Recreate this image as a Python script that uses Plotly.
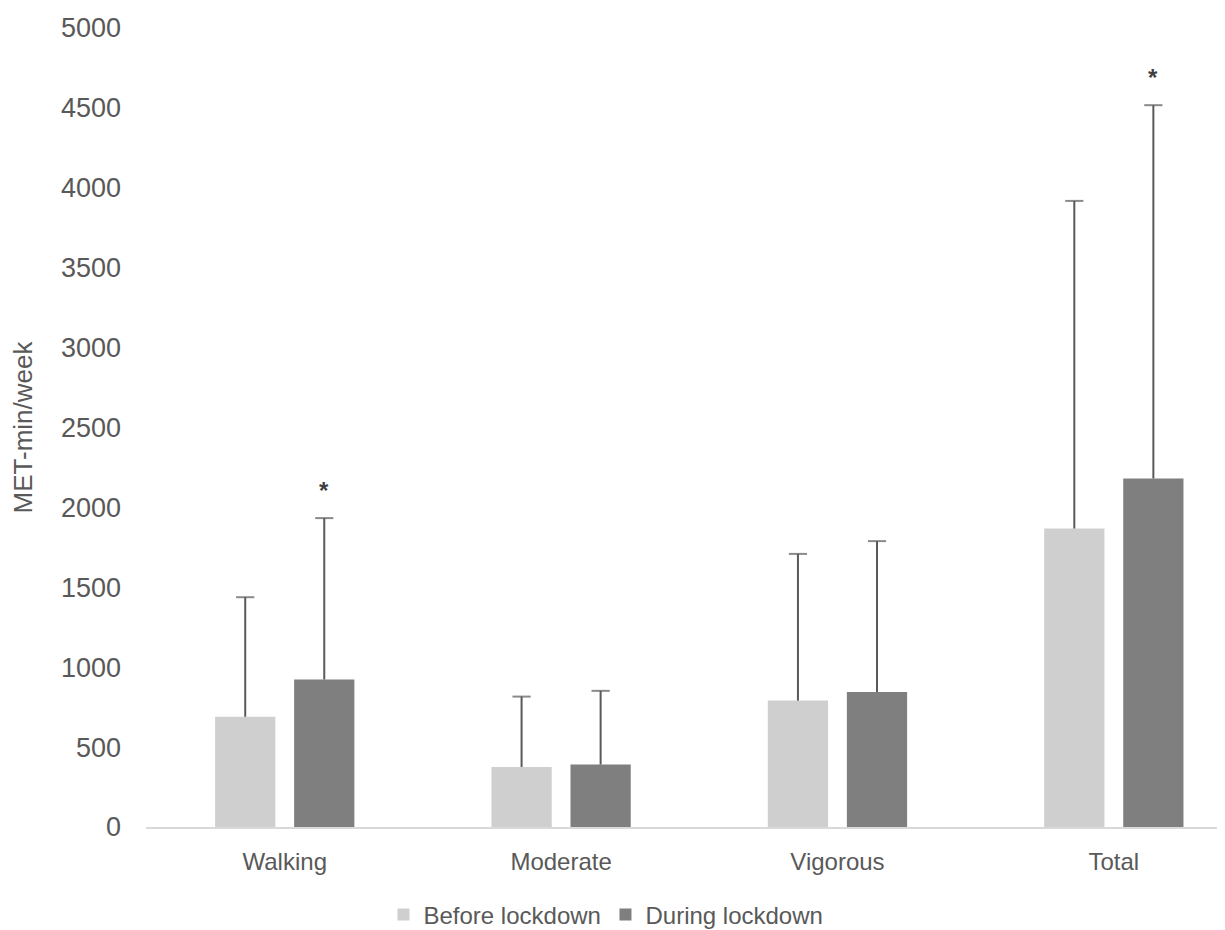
import plotly.graph_objects as go

categories = ["Walking", "Moderate", "Vigorous", "Total"]
before_mean = [690, 376, 791, 1868]
before_sd = [748, 440, 918, 2050]
during_mean = [923, 391, 845, 2181]
during_sd = [1010, 461, 944, 2336]
during_significant = [True, False, False, True]
series_names = ["Before lockdown", "During lockdown"]
y_ticks = [0, 500, 1000, 1500, 2000, 2500, 3000, 3500, 4000, 4500, 5000]

COL_BEFORE = "#cfcfcf"
COL_DURING = "#7f7f7f"
COL_ERR = "#595959"
COL_TEXT = "#595959"
FONT = "Liberation Sans, Arial, sans-serif"

BAR_W = 0.218
HALF_SEP = 0.143

idx = list(range(len(categories)))
fig = go.Figure()

series = [
    (series_names[0], before_mean, before_sd, COL_BEFORE, -HALF_SEP),
    (series_names[1], during_mean, during_sd, COL_DURING, HALF_SEP),
]

for name, mean, sd, col, shift in series:
    fig.add_trace(go.Bar(
        x=idx, y=mean, name=name, width=BAR_W, offset=shift - BAR_W / 2,
        marker=dict(color=col, line=dict(width=0)),
        hoverinfo="skip",
    ))

for name, mean, sd, col, shift in series:
    xs, ys, sizes = [], [], []
    for i, m, s in zip(idx, mean, sd):
        xs += [i + shift, i + shift, None]
        ys += [m, m + s, None]
        sizes += [0, 13, 0]
    fig.add_trace(go.Scatter(
        x=xs, y=ys, mode="lines+markers", showlegend=False, hoverinfo="skip",
        line=dict(color=COL_ERR, width=2),
        marker=dict(symbol="line-ew", size=sizes, color=COL_ERR,
                    line=dict(color=COL_ERR, width=2)),
    ))

for i, m, s, sig in zip(idx, during_mean, during_sd, during_significant):
    if sig:
        fig.add_annotation(x=i + HALF_SEP, y=m + s, text="<b>*</b>", showarrow=False,
                           yanchor="middle", yshift=28,
                           font=dict(family=FONT, size=24, color="#404040"))

# The page body has an 8px margin, so the figure is sized to fit the window.
fig.update_layout(
    width=1217, height=922,
    margin=dict(l=138, r=2, t=20, b=103, autoexpand=False),
    paper_bgcolor="white", plot_bgcolor="white",
    barmode="overlay",
    font=dict(family=FONT, color=COL_TEXT, size=24),
    showlegend=True,
    legend=dict(orientation="h", x=0.2205, xanchor="left", y=-0.11, yanchor="middle",
                font=dict(family=FONT, size=24, color=COL_TEXT),
                entrywidth=177, entrywidthmode="pixels",
                bgcolor="rgba(0,0,0,0)"),
    xaxis=dict(
        range=[-0.502, 3.395], tickmode="array", tickvals=idx, ticktext=categories,
        showgrid=False, zeroline=False, showline=True, linecolor="#d9d9d9", linewidth=2,
        ticks="", tickfont=dict(family=FONT, size=24, color=COL_TEXT),
        ticklabelstandoff=12,
    ),
    yaxis=dict(
        range=[0, 5000], tickmode="array", tickvals=y_ticks,
        showgrid=False, zeroline=False, showline=False, ticks="",
        tickfont=dict(family=FONT, size=27, color=COL_TEXT),
        ticklabelstandoff=24,
        title=dict(text="MET-min/week", font=dict(family=FONT, size=26, color=COL_TEXT),
                   standoff=22),
    ),
)

fig.write_html("out.html")
